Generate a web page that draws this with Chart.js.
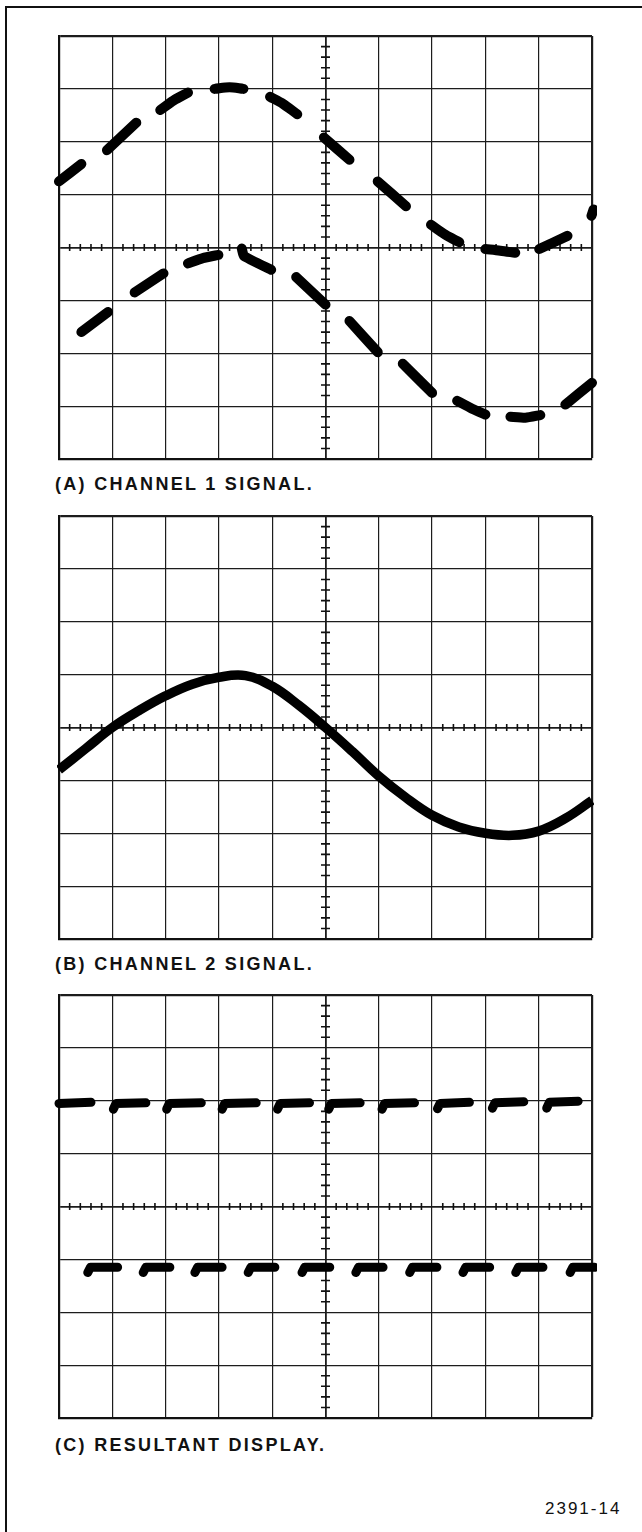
<!DOCTYPE html>
<html>
<head>
<meta charset="utf-8">
<script src="https://cdn.jsdelivr.net/npm/chart.js@4.4.0/dist/chart.umd.min.js"></script>
<style>
  html, body { margin: 0; padding: 0; background: #fff; }
  body { width: 642px; height: 1532px; position: relative; overflow: hidden;
         font-family: "Liberation Sans", Arial, sans-serif; color: #111; }
  .frame { position: absolute; left: 5px; top: 6px; width: 660px; height: 1560px;
           border-left: 2px solid #111; border-top: 2px solid #111; }
  .scope { position: absolute; left: 47px; }
  .caption { position: absolute; left: 55px; font-weight: bold; font-size: 18px;
             line-height: 18px; letter-spacing: 2.3px; white-space: nowrap; }
  .fig-no { position: absolute; left: 545px; top: 1500px; font-size: 17px;
            line-height: 17px; letter-spacing: 2px; }
</style>
</head>
<body>
<div class="frame"></div>

<canvas id="scopeA" class="scope" width="557" height="447" style="top:24px"></canvas>
<div class="caption" style="top:475px">(A) CHANNEL 1 SIGNAL.</div>

<canvas id="scopeB" class="scope" width="557" height="447" style="top:504px"></canvas>
<div class="caption" style="top:955px">(B) CHANNEL 2 SIGNAL.</div>

<canvas id="scopeC" class="scope" width="557" height="447" style="top:983px"></canvas>
<div class="caption" style="top:1436px">(C) RESULTANT DISPLAY.</div>

<div class="fig-no">2391-14</div>

<script>
// Graticule is 10 x 8 divisions, values are in divisions (y = 0 at centre line)

// (A) channel 1, chopped: upper trace pieces (null = chop gap)
const A_UPPER_X = [0, 0.42, 0.65, 0.9, 1.45, 1.65, 1.9, 2.15, 2.42, 2.65, 2.92, 3.2, 3.46, 3.7,
                   3.96, 4.2, 4.47, 4.7, 4.97, 5.45, 5.7, 5.98, 6.51, 6.75, 6.98, 7.25, 7.51, 7.75,
                   8.0, 8.28, 8.56, 8.8, 9.01, 9.54, 9.78, 9.99, 10.03];
const A_UPPER_Y = [1.25, 1.58, null, 1.84, 2.36, null, 2.6, 2.78, 2.93, null, 3.0, 3.03, 3.0, null,
                   2.85, 2.72, 2.52, null, 2.08, 1.66, null, 1.25, 0.78, null, 0.43, 0.24, 0.1, null,
                   -0.03, -0.06, -0.1, null, -0.03, 0.22, null, 0.6, 0.72];
// (A) lower trace pieces
const A_LOWER_X = [0.42, 0.92, 1.15, 1.42, 1.96, 2.2, 2.42, 2.7, 2.99, 3.2, 3.43, 3.47, 3.98, 4.2,
                   4.45, 5.0, 5.2, 5.45, 5.98, 6.2, 6.45, 7.0, 7.25, 7.47, 7.75, 8.0, 8.25,
                   8.47, 8.75, 9.03, 9.25, 9.5, 10.0];
const A_LOWER_Y = [-1.6, -1.22, null, -0.85, -0.49, null, -0.3, -0.2, -0.14, null, -0.02, -0.16, -0.42, null,
                   -0.56, -1.08, null, -1.39, -1.98, null, -2.2, -2.75, null, -2.9, -3.05, -3.16, null,
                   -3.2, -3.22, -3.17, null, -2.97, -2.56];

// (B) channel 2, continuous sine
const B_X = [0, 0.5, 1, 1.5, 2, 2.5, 3, 3.5, 4, 4.5, 5, 5.5, 6, 6.5, 7, 7.5, 8, 8.5, 9, 9.5, 10];
const B_Y = [-0.8, -0.4, 0.0, 0.32, 0.6, 0.82, 0.95, 0.98, 0.78, 0.42, 0.0, -0.45, -0.92, -1.32,
             -1.66, -1.88, -2.0, -2.04, -1.96, -1.72, -1.38];

// (C) resultant: upper dashes
const C_UPPER_X = [0, 0.6, 0.8, 1.02, 1.07, 1.63, 1.8, 2.02, 2.07, 2.67, 2.85, 3.06, 3.11, 3.7, 3.9,
                   4.1, 4.15, 4.7, 4.9, 5.06, 5.11, 5.65, 5.85, 6.06, 6.11, 6.67, 6.9, 7.1, 7.15, 7.7, 7.9,
                   8.13, 8.18, 8.72, 8.95, 9.15, 9.2, 9.74];
const C_UPPER_Y = [1.95, 1.97, null, 1.84, 1.95, 1.96, null, 1.84, 1.95, 1.96, null, 1.84, 1.95, 1.96, null,
                   1.84, 1.95, 1.96, null, 1.84, 1.95, 1.96, null, 1.84, 1.95, 1.96, null, 1.85, 1.95, 1.97, null,
                   1.86, 1.96, 1.98, null, 1.86, 1.97, 1.99];
// (C) lower dashes
const C_LOWER_X = [0.54, 0.59, 1.1, 1.3, 1.58, 1.63, 2.08, 2.3, 2.55, 2.6, 3.06, 3.3, 3.55, 3.6, 4.05, 4.3,
                   4.56, 4.61, 5.08, 5.3, 5.57, 5.62, 6.08, 6.3, 6.58, 6.63, 7.09, 7.3, 7.58, 7.63, 8.08, 8.3,
                   8.57, 8.62, 9.08, 9.3, 9.59, 9.64, 10.05];
const C_LOWER_Y = [-1.25, -1.15, -1.15, null, -1.25, -1.15, -1.15, null, -1.25, -1.15, -1.15, null, -1.25, -1.15, -1.15, null,
                   -1.25, -1.15, -1.15, null, -1.25, -1.15, -1.15, null, -1.25, -1.15, -1.15, null, -1.25, -1.15, -1.15, null,
                   -1.25, -1.15, -1.15, null, -1.25, -1.15, -1.15];

function pts(xs, ys) {
  return xs.map((x, i) => ({ x: x, y: ys[i] }));
}

// minor tick crosses on the two centre lines
const graticule = {
  id: 'graticule',
  beforeDatasetsDraw(chart) {
    const ctx = chart.ctx;
    const sx = chart.scales.x, sy = chart.scales.y;
    const cx = sx.getPixelForValue(5), cy = sy.getPixelForValue(0);
    ctx.save();
    ctx.strokeStyle = '#111';
    ctx.lineWidth = 1.6;
    ctx.beginPath();
    for (let i = 1; i < 50; i++) {
      if (i % 5 === 0) continue;
      const px = sx.getPixelForValue(i / 5);
      ctx.moveTo(px, cy - 3.5);
      ctx.lineTo(px, cy + 3.5);
    }
    for (let i = 1; i < 40; i++) {
      if (i % 5 === 0) continue;
      const py = sy.getPixelForValue(-4 + i / 5);
      ctx.moveTo(cx - 4.5, py);
      ctx.lineTo(cx + 4.5, py);
    }
    ctx.stroke();
    ctx.restore();
  }
};

function gridFor(centre, edge) {
  return {
    color: '#1c1c1c',
    drawTicks: false,
    lineWidth: c => {
      if (!c.tick) return 1.2;
      if (c.tick.value === centre) return 1.8;
      if (c.tick.value === edge) return 2.2;
      return 1.2;
    }
  };
}

function trace(data, extra) {
  return Object.assign({
    data: data,
    borderColor: '#000',
    borderWidth: 9,
    pointRadius: 0,
    borderCapStyle: 'round',
    borderJoinStyle: 'round',
    spanGaps: false,
    tension: 0.3,
    clip: 5
  }, extra || {});
}

function makeScope(id, datasets) {
  const ctx = document.getElementById(id).getContext('2d');
  return new Chart(ctx, {
    type: 'line',
    data: { datasets: datasets },
    options: {
      responsive: false,
      animation: false,
      events: [],
      layout: { padding: 12 },
      plugins: { legend: { display: false }, tooltip: { enabled: false } },
      scales: {
        x: {
          type: 'linear', min: 0, max: 10,
          ticks: { display: false, stepSize: 1 },
          grid: gridFor(5, 10),
          border: { color: '#111', width: 2.2 },
          afterFit: s => { s.height = 0; }
        },
        y: {
          type: 'linear', min: -4, max: 4,
          ticks: { display: false, stepSize: 1 },
          grid: gridFor(0, 4),
          border: { color: '#111', width: 2.2 },
          afterFit: s => { s.width = 0; }
        }
      }
    },
    plugins: [graticule]
  });
}

makeScope('scopeA', [
  trace(pts(A_UPPER_X, A_UPPER_Y), { borderWidth: 10 }),
  trace(pts(A_LOWER_X, A_LOWER_Y), { borderWidth: 10, tension: 0.15 })
]);

makeScope('scopeB', [
  trace(pts(B_X, B_Y), { borderCapStyle: 'butt', tension: 0.4, clip: 2, borderWidth: 9.5 })
]);

makeScope('scopeC', [
  trace(pts(C_UPPER_X, C_UPPER_Y), { tension: 0 }),
  trace(pts(C_LOWER_X, C_LOWER_Y), { tension: 0 })
]);
</script>
</body>
</html>
